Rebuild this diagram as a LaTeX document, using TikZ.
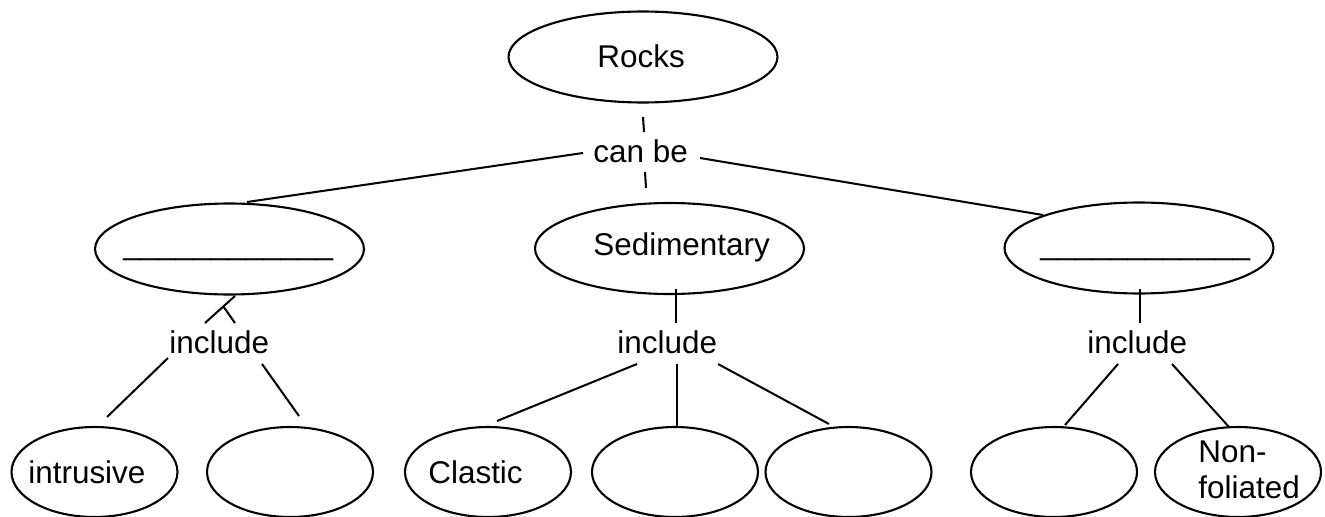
\documentclass[tikz,border=0pt]{standalone}
\usepackage{fontspec}
\setmainfont{Liberation Sans}
\usetikzlibrary{shapes.geometric}
\tikzset{
  big/.style={ellipse,draw,line width=1.2pt,inner sep=0pt,minimum width=5.38cm,minimum height=1.82cm},
  small/.style={ellipse,draw,line width=1.2pt,inner sep=0pt,minimum width=3.32cm,minimum height=1.8cm},
  txt/.style={anchor=base west,inner sep=0pt,font=\fontsize{17.9}{21.5}\selectfont},
  conn/.style={line width=1.15pt},
}
\begin{document}
\begin{tikzpicture}[x=0.02cm,y=-0.02cm]
\useasboundingbox (0,0) rectangle (1325,517);
\clip (0,0) rectangle (1325,517);
% ellipses
\node[big] (rocks) at (643,57) {};
\node[big] (ign) at (229.5,249) {};
\node[big] (sed) at (669.5,248.5) {};
\node[big] (met) at (1139,248) {};
\node[small] (intr) at (94.5,472) {};
\node[small] (ign2) at (290,472) {};
\node[small] (clas) at (488,472) {};
\node[small] (sed2) at (675,472) {};
\node[small] (sed3) at (848.5,472) {};
\node[small] (met1) at (1054,472) {};
\node[small] (nonfol) at (1238,472) {};
% texts
\node[txt] (trocks) at (597,68) {Rocks};
\node[txt] (canbe) at (593,162) {can be};
\node[txt] (tign) at (123,254) {\_\_\_\_\_\_\_\_\_\_\_\_};
\node[txt] (tsed) at (593,255) {Sedimentary};
\node[txt] (tmet) at (1040,254) {\_\_\_\_\_\_\_\_\_\_\_\_};
\node[txt] (incI) at (169,353) {include};
\node[txt] (incS) at (617,353) {include};
\node[txt] (incM) at (1087,353) {include};
\node[txt] (tintr) at (28,483) {intrusive};
\node[txt] (tclas) at (428,483) {Clastic};
\node[txt] (tnon1) at (1198,462) {Non-};
\node[txt] (tnon2) at (1198,498) {foliated};
% connector end points
\coordinate (r1) at (643,117); \coordinate (r2) at (644,132);
\coordinate (r3) at (645,172); \coordinate (r4) at (646,188);
\coordinate (c1) at (583,153); \coordinate (c2) at (247,202);
\coordinate (c3) at (700,158); \coordinate (c4) at (1043,215);
\coordinate (i1) at (235,296); \coordinate (i2) at (205,323);
\coordinate (i3) at (223,306); \coordinate (i4) at (235,323);
\coordinate (i5) at (168,358); \coordinate (i6) at (107,417);
\coordinate (i7) at (262,364); \coordinate (i8) at (299,416);
\coordinate (s1) at (676,289); \coordinate (s2) at (676,323);
\coordinate (s3) at (637,364); \coordinate (s4) at (497,421);
\coordinate (s5) at (677,364); \coordinate (s6) at (677,427);
\coordinate (s7) at (718,364); \coordinate (s8) at (829,424);
\coordinate (m1) at (1140,289); \coordinate (m2) at (1140,323);
\coordinate (m3) at (1118,364); \coordinate (m4) at (1065,425);
\coordinate (m5) at (1172,364); \coordinate (m6) at (1229,427);
% connectors
\draw[conn] (r1) -- (r2);
\draw[conn] (r3) -- (r4);
\draw[conn] (c1) -- (c2);
\draw[conn] (c3) -- (c4);
\draw[conn] (i1) -- (i2);
\draw[conn] (i3) -- (i4);
\draw[conn] (i5) -- (i6);
\draw[conn] (i7) -- (i8);
\draw[conn] (s1) -- (s2);
\draw[conn] (s3) -- (s4);
\draw[conn] (s5) -- (s6);
\draw[conn] (s7) -- (s8);
\draw[conn] (m1) -- (m2);
\draw[conn] (m3) -- (m4);
\draw[conn] (m5) -- (m6);
\end{tikzpicture}
\end{document}
